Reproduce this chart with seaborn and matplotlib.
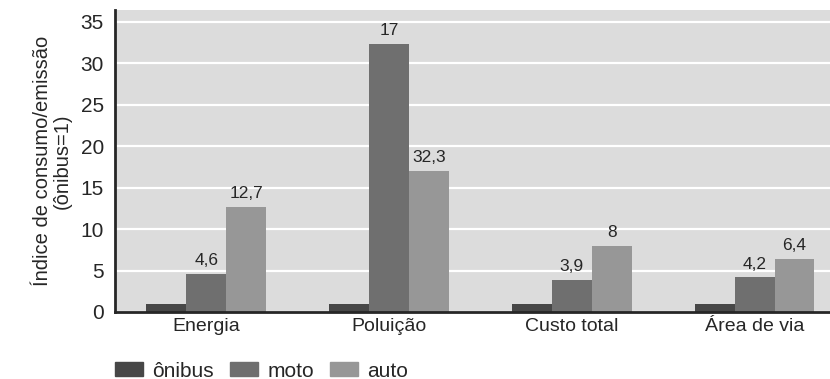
import matplotlib
matplotlib.use("Agg")
import matplotlib.pyplot as plt
import matplotlib.patches as mpatches
import seaborn as sns
import pandas as pd

categories = ["Energia", "Poluição", "Custo total", "Área de via"]
series = ["ônibus", "moto", "auto"]
onibus = [1, 1, 1, 1]
moto = [4.6, 32.3, 3.9, 4.2]
auto = [12.7, 17, 8, 6.4]
# value labels as printed above the moto and auto bars
moto_labels = ["4,6", "17", "3,9", "4,2"]
auto_labels = ["12,7", "32,3", "8", "6,4"]
y_ticks = [0, 5, 10, 15, 20, 25, 30, 35]

colors = {"ônibus": "#474747", "moto": "#6f6f6f", "auto": "#979797"}
text_color = "#262626"

df = pd.DataFrame({
    "categoria": categories * 3,
    "serie": [s for s in series for _ in categories],
    "valor": onibus + moto + auto,
})

sns.set_theme(style="white")
plt.rcParams["font.family"] = ["Liberation Sans", "DejaVu Sans"]

fig = plt.figure(figsize=(8.3, 3.79), dpi=100)
ax = fig.add_axes([0.1386, 0.1768, 0.8614, 0.7968])
ax.set_facecolor("#dcdcdc")

sns.barplot(data=df, x="categoria", y="valor", hue="serie", order=categories,
            hue_order=series, palette=colors, width=0.656, gap=0,
            saturation=1, edgecolor="none", linewidth=0, legend=False, ax=ax,
            zorder=2)

ax.set_ylim(0, 36.4)
ax.set_xlim(-0.5, 3.413)
ax.set_yticks(y_ticks)
ax.set_yticklabels([str(t) for t in y_ticks], fontsize=15, color=text_color)
ax.grid(axis="y", color="white", linewidth=1.6, zorder=0)
ax.set_axisbelow(True)

# category names centred, ticks on group boundaries
ax.set_xticks([0.5, 1.5, 2.5])
ax.set_xticklabels([])
ax.set_xticks(range(len(categories)), minor=True)
ax.set_xticklabels(categories, minor=True, fontsize=14, color=text_color)
ax.tick_params(axis="x", which="minor", length=0, pad=4)
ax.tick_params(axis="x", which="major", length=4.5, width=1.8,
               color=text_color, direction="out")
ax.tick_params(axis="y", length=7, width=1.8, color=text_color, pad=1)
ax.set_xlabel("")
ax.set_ylabel("Índice de consumo/emissão\n(ônibus=1)", fontsize=14.5,
              color=text_color, linespacing=1.05, labelpad=6)

for side in ["top", "right"]:
    ax.spines[side].set_visible(False)
for side in ["left", "bottom"]:
    ax.spines[side].set_color(text_color)
    ax.spines[side].set_linewidth(2)

# value labels above the moto and auto bars
moto_bars = ax.containers[1]
auto_bars = ax.containers[2]
ax.bar_label(moto_bars, labels=moto_labels, padding=4, fontsize=12.5,
             color=text_color)
ax.bar_label(auto_bars, labels=auto_labels, padding=4, fontsize=12.5,
             color=text_color)

handles = [mpatches.Patch(color=colors[s], label=s) for s in series]
fig.legend(handles=handles, loc="center left", bbox_to_anchor=(0.1386, 0.021),
           ncol=3, frameon=False, fontsize=15, handlelength=1.35,
           handleheight=0.65, handletextpad=0.45, columnspacing=0.75,
           borderpad=0, borderaxespad=0, labelcolor=text_color)

fig.savefig("out.png", dpi=100)
